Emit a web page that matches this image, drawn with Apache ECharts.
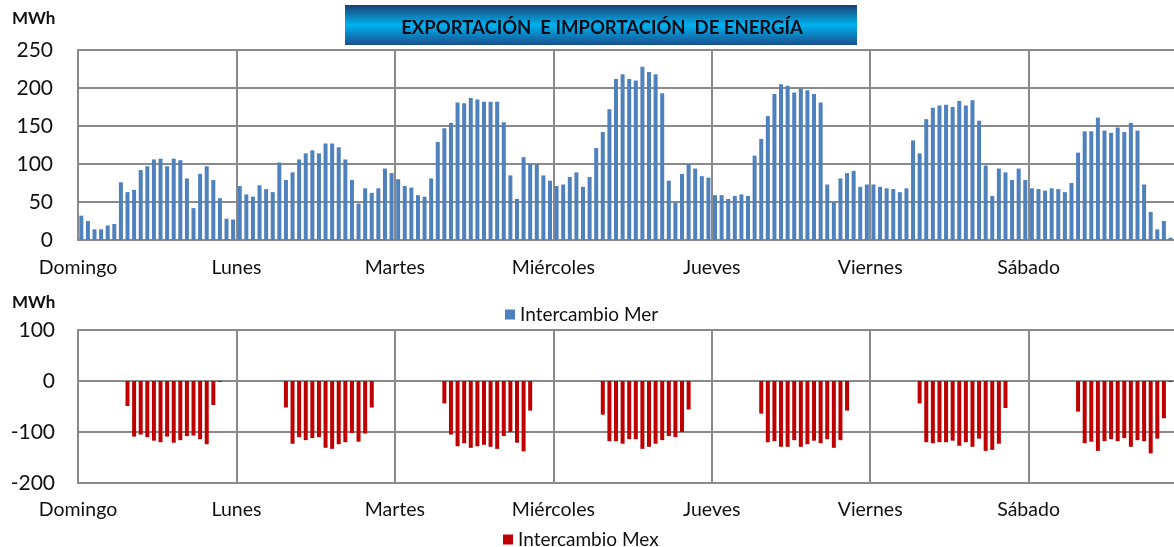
<!DOCTYPE html>
<html>
<head>
<meta charset="utf-8">
<script src="https://cdn.jsdelivr.net/npm/echarts@6/dist/echarts.min.js"></script>
<style>
html,body{margin:0;padding:0;background:#fff;overflow:hidden;width:1174px;height:547px;}
#chart{width:1200px;height:547px;}
</style>
</head>
<body>
<div id="chart"></div>
<script>
const days = ['Domingo','Lunes','Martes','Miércoles','Jueves','Viernes','Sábado'];
const topTicks = [0, 50, 100, 150, 200, 250];
const bottomTicks = [-200, -100, 0, 100];

// Intercambio Mer (MWh), 24 hourly values per day
const merDomingo   = [32,25,14,14,19,21,76,63,66,92,97,106,107,97,107,105,81,42,87,97,79,55,28,27];
const merLunes     = [71,60,57,72,67,63,102,79,89,106,114,118,114,127,127,122,106,79,48,68,62,68,94,88];
const merMartes    = [80,71,69,59,57,81,129,147,154,181,180,187,185,182,182,182,155,85,54,109,100,99,85,78];
const merMiercoles = [71,73,83,89,70,83,121,142,172,212,218,212,210,228,221,218,193,78,49,87,100,94,84,82];
const merJueves    = [59,59,54,58,60,58,111,133,163,192,205,203,194,199,197,192,181,73,50,81,88,91,70,73];
const merViernes   = [73,70,68,67,63,68,131,114,159,174,177,178,175,183,177,184,157,98,58,94,89,79,94,79];
const merSabado    = [68,67,65,68,67,63,75,115,143,143,161,144,141,148,142,154,144,73,37,14,25,3,82,80];

// Intercambio Mex (MWh), 24 hourly values per day
const mexDomingo   = [null,null,null,null,null,null,null,-49,-109,-105,-110,-117,-120,-109,-121,-116,-108,-107,-114,-124,-47,-2,null,null];
const mexLunes     = [null,null,null,null,null,null,null,-52,-123,-110,-116,-112,-110,-131,-133,-124,-120,-102,-119,-103,-52,null,null,null];
const mexMartes    = [null,null,null,null,null,null,null,-44,-105,-128,-122,-131,-128,-125,-129,-133,-108,-100,-121,-138,-58,null,null,null];
const mexMiercoles = [null,null,null,null,null,null,null,-66,-118,-118,-123,-114,-114,-133,-129,-123,-116,-108,-110,-100,-56,null,null,null];
const mexJueves    = [null,null,null,null,null,null,null,-64,-120,-118,-129,-129,-116,-129,-124,-117,-122,-114,-131,-116,-58,null,null,null];
const mexViernes   = [null,null,null,null,null,null,null,-44,-120,-122,-120,-120,-117,-127,-120,-129,-113,-137,-135,-123,-53,null,null,null];
const mexSabado    = [null,null,null,null,null,null,null,-60,-122,-119,-137,-118,-114,-118,-112,-129,-116,-118,-142,-113,-73,-2,null,null];

const merWeek = [merDomingo, merLunes, merMartes, merMiercoles, merJueves, merViernes, merSabado];
const mexWeek = [mexDomingo, mexLunes, mexMartes, mexMiercoles, mexJueves, mexViernes, mexSabado];

function toPoints(week) {
  const pts = [];
  week.forEach((dayVals, d) => {
    dayVals.forEach((v, h) => {
      if (v !== null) pts.push([d * 24 + h + 0.5, v]);
    });
  });
  return pts;
}

const FONT = 'Lato, "Open Sans", sans-serif';
const GRID_COLOR = '#8a8a8a';

function xAxisFor(gridIndex, margin) {
  return {
    type: 'value', gridIndex, min: 0, max: 168, interval: 24,
    axisLine: { show: true, onZero: false, lineStyle: { color: GRID_COLOR, width: 2 } },
    axisTick: { show: false },
    splitLine: { show: true, lineStyle: { color: GRID_COLOR, width: 2 } },
    axisLabel: {
      margin, fontFamily: FONT, fontSize: 19.5, color: '#111',
      showMaxLabel: false,
      formatter: v => (v < 168 ? days[Math.round(v / 24)] : '')
    }
  };
}

function yAxisFor(gridIndex, ticks, margin) {
  return {
    type: 'value', gridIndex,
    min: ticks[0], max: ticks[ticks.length - 1], interval: ticks[1] - ticks[0],
    axisLine: { show: true, lineStyle: { color: GRID_COLOR, width: 2 } },
    axisTick: { show: false },
    splitLine: { show: true, lineStyle: { color: GRID_COLOR, width: 2 } },
    axisLabel: { margin, fontFamily: FONT, fontSize: 21, color: '#111' }
  };
}

const chart = echarts.init(document.getElementById('chart'), null, { renderer: 'canvas' });
chart.setOption({
  animation: false,
  backgroundColor: '#fff',
  grid: [
    { left: 78, top: 50, width: 1109, height: 190 },
    { left: 78, top: 330, width: 1109, height: 153 }
  ],
  xAxis: [xAxisFor(0, 18), xAxisFor(1, 17)],
  yAxis: [yAxisFor(0, topTicks, 25), yAxisFor(1, bottomTicks, 23)],
  legend: [
    { data: ['Intercambio Mer'], left: 505, top: 305, padding: 0, icon: 'rect', itemWidth: 10, itemHeight: 10, itemGap: 4,
      textStyle: { fontFamily: FONT, fontSize: 19, color: '#111' } },
    { data: ['Intercambio Mex'], left: 503, top: 530, padding: 0, icon: 'rect', itemWidth: 10, itemHeight: 10,
      textStyle: { fontFamily: FONT, fontSize: 19, color: '#111' } }
  ],
  graphic: [
    { type: 'rect', left: 345, top: 5, shape: { width: 512, height: 40 },
      style: { fill: new echarts.graphic.LinearGradient(0, 0, 0, 1, [
        { offset: 0, color: '#1b3f74' }, { offset: 0.5, color: '#00b2ef' }, { offset: 1, color: '#1a4f8e' }
      ]) } },
    { type: 'text', x: 602, y: 28, style: { text: 'EXPORTACIÓN  E IMPORTACIÓN  DE ENERGÍA',
      fontFamily: FONT, fontWeight: 'bold', fontSize: 18.5, fill: '#0b0b1a', align: 'center', verticalAlign: 'middle' } },
    { type: 'text', left: 12, top: 10, style: { text: 'MWh', fontFamily: FONT, fontWeight: 'bold', fontSize: 17, fill: '#111' } },
    { type: 'text', left: 12, top: 294, style: { text: 'MWh', fontFamily: FONT, fontWeight: 'bold', fontSize: 17, fill: '#111' } }
  ],
  series: [
    { name: 'Intercambio Mer', type: 'bar', xAxisIndex: 0, yAxisIndex: 0, barWidth: 4,
      itemStyle: { color: '#4f81bd' }, data: toPoints(merWeek) },
    { name: 'Intercambio Mex', type: 'bar', xAxisIndex: 1, yAxisIndex: 1, barWidth: 4,
      itemStyle: { color: '#c00000' }, data: toPoints(mexWeek) }
  ]
});
</script>
</body>
</html>
